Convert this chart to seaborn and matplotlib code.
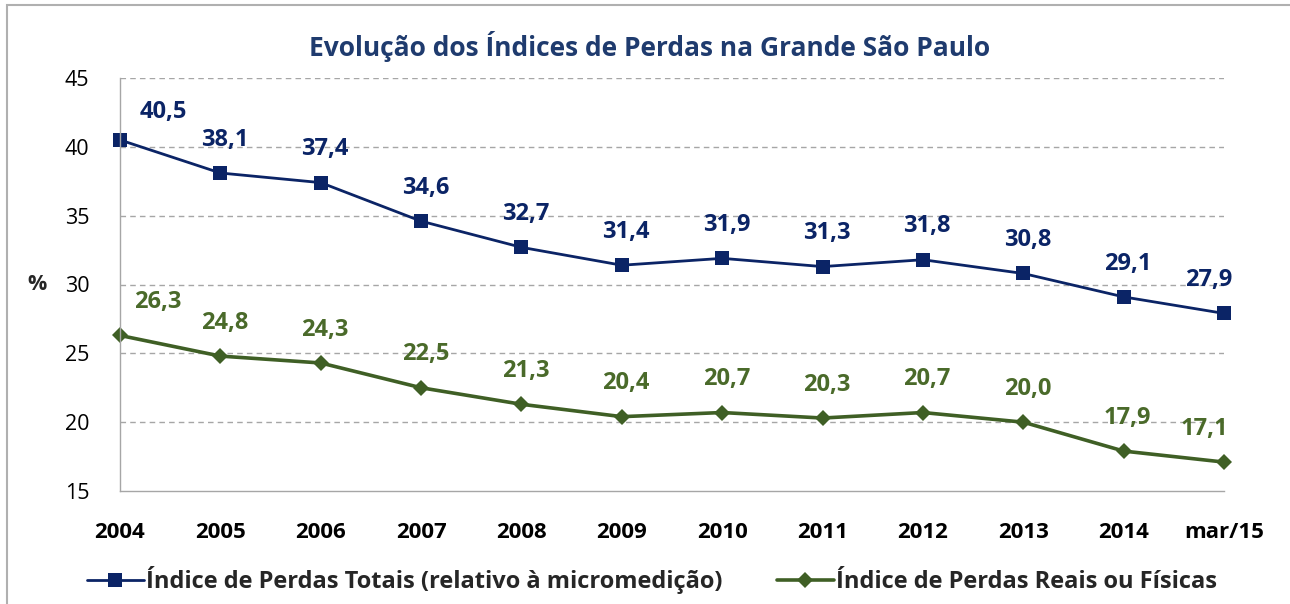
import matplotlib
matplotlib.use("Agg")
import matplotlib.pyplot as plt
from matplotlib.patches import Rectangle
from matplotlib.lines import Line2D
import seaborn as sns
import pandas as pd

# Chart data
periods = ["2004", "2005", "2006", "2007", "2008", "2009", "2010",
           "2011", "2012", "2013", "2014", "mar/15"]
perdas_totais = [40.5, 38.1, 37.4, 34.6, 32.7, 31.4, 31.9, 31.3, 31.8, 30.8, 29.1, 27.9]
perdas_reais = [26.3, 24.8, 24.3, 22.5, 21.3, 20.4, 20.7, 20.3, 20.7, 20.0, 17.9, 17.1]
series_names = ["Índice de Perdas Totais (relativo à micromedição)",
                "Índice de Perdas Reais ou Físicas"]
title = "Evolução dos Índices de Perdas na Grande São Paulo"
y_ticks = [15, 20, 25, 30, 35, 40, 45]

NAVY = "#0b2466"
GREEN = "#3f5f25"
GREEN_TXT = "#4a6a2a"
TITLE_C = "#1f3b6e"
GRID_C = "#a6a6a6"

sns.set_theme(style="white")
plt.rcParams["font.family"] = ["Open Sans", "DejaVu Sans"]

df = pd.DataFrame({
    "x": list(range(len(periods))) * 2,
    "valor": perdas_totais + perdas_reais,
    "serie": [series_names[0]] * len(periods) + [series_names[1]] * len(periods),
})

fig = plt.figure(figsize=(12.9, 6.04), dpi=100)
ax = fig.add_axes([120 / 1290, 1 - 491 / 604, (1224 - 120) / 1290, (491 - 78) / 604])

sns.lineplot(data=df, x="x", y="valor", hue="serie", style="serie",
             palette=[NAVY, GREEN], markers=["s", "D"], dashes=False,
             markersize=10, linewidth=2.0, markeredgewidth=0,
             legend=False, ax=ax, clip_on=False)
for ln in ax.get_lines():
    if ln.get_marker() == "D":
        ln.set_markersize(8)
        ln.set_linewidth(2.6)

ax.set_xlim(0, len(periods) - 1)
ax.set_ylim(15, 45)
ax.set_yticks(y_ticks)
ax.set_yticklabels([str(v) for v in y_ticks], fontsize=15.5)
ax.set_xticks(range(len(periods)))
ax.set_xticklabels(periods, fontsize=16, fontweight="bold")
ax.tick_params(axis="y", length=0, pad=22, colors="black")
ax.tick_params(axis="x", direction="out", length=6, width=1, color=GRID_C, pad=16)
for lbl in ax.get_xticklabels() + ax.get_yticklabels():
    lbl.set_color("black")

for v in y_ticks[1:]:
    ax.axhline(v, color=GRID_C, linestyle=(0, (4, 3)), linewidth=1, zorder=0)

for side in ["top", "right"]:
    ax.spines[side].set_visible(False)
for side in ["left", "bottom"]:
    ax.spines[side].set_color(GRID_C)
    ax.spines[side].set_linewidth(1)

ax.set_xlabel("")
ax.set_ylabel("%", fontsize=15.5, fontweight="bold", rotation=0, labelpad=20, va="center")

def fmt(v):
    return f"{v:.1f}".replace(".", ",")

last = len(periods) - 1
for i, (a, b) in enumerate(zip(perdas_totais, perdas_reais)):
    dx = 31 if i == 0 else (-11 if i == last else 3)
    dya = 20 if i == 0 else 24
    dxb = 27 if i == 0 else (-14 if i == last else 3)
    ax.annotate(fmt(a), (i, a), xytext=(dx, dya), textcoords="offset points",
                ha="center", va="center", fontsize=17, fontweight="bold", color=NAVY)
    ax.annotate(fmt(b), (i, b), xytext=(dxb, 24), textcoords="offset points",
                ha="center", va="center", fontsize=17, fontweight="bold", color=GREEN_TXT)

fig.text(650 / 1290, 1 - 47 / 604, title, ha="center", va="center",
         fontsize=19, fontweight="bold", color=TITLE_C)

handles = [
    Line2D([0], [0], color=NAVY, marker="s", markersize=10, linewidth=2.0, markeredgewidth=0),
    Line2D([0], [0], color=GREEN, marker="D", markersize=8, linewidth=2.6, markeredgewidth=0),
]
leg = fig.legend(handles, series_names, loc="center", bbox_to_anchor=(652 / 1290, 1 - 580 / 604),
                 ncol=2, frameon=False, handlelength=2.4, handletextpad=0.1,
                 columnspacing=2.3, prop={"size": 17, "weight": "bold"})

# outer chart frame
fig.patches.append(Rectangle((7 / 1290, -0.1), 1.2, 1.1 - 5 / 604,
                             transform=fig.transFigure, fill=False,
                             edgecolor="#b0b0b0", linewidth=1.5))

fig.savefig("out.png", dpi=100)
